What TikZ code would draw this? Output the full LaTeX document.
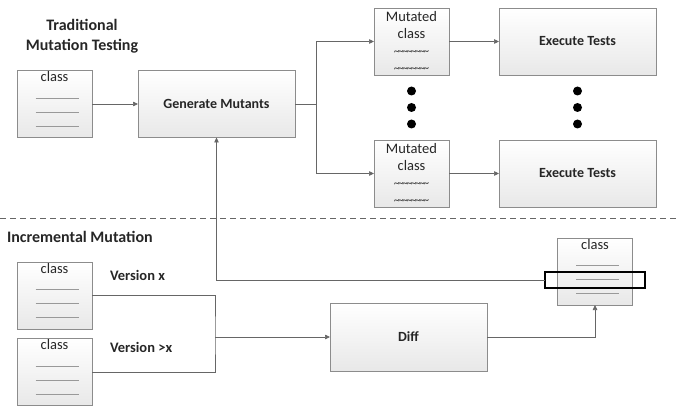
\documentclass[tikz,border=0pt]{standalone}
\usepackage{fontspec}
\setmainfont{Carlito}
\usetikzlibrary{positioning,arrows.meta}

\newcommand\wavy{\scalebox{1.05}[1.3]{\fontsize{10.5}{9}\selectfont\color{black!70}\textasciitilde\kern-1.2pt\textasciitilde\kern-1.2pt\textasciitilde\kern-1.2pt\textasciitilde\kern-1.2pt\textasciitilde\kern-1.2pt\textasciitilde\kern-1.2pt\textasciitilde\kern-1.2pt\textasciitilde}}

\begin{document}
\begin{tikzpicture}
[x=1pt,y=-1pt,
 every node/.style={font=\fontsize{14.5}{17}\selectfont,text=black!85,inner sep=0pt,outer sep=0pt},
 box/.style={draw=black!45,line width=0.8pt,top color=white,bottom color=black!9,minimum width=157pt,minimum height=67pt,font=\fontsize{14}{17}\selectfont\bfseries},
 doc/.style={box,minimum width=75pt,font=\fontsize{14.5}{17}\selectfont},
 dot/.style={circle,fill=black,minimum size=9pt},
 title/.style={font=\fontsize{16}{20}\selectfont\bfseries,align=center},
 link/.style={draw=black!60,line width=0.7pt},
 arrow/.style={link,-{Triangle[length=5pt,width=4.5pt]}}]
\useasboundingbox (0,0) rectangle (676,406);
% titles
\node[title]              (trad) at (82,36)  {Traditional\\Mutation Testing};
\node[title,anchor=west]  (incr) at (7,237)  {Incremental Mutation};
% traditional mutation testing
\node[doc,label={[anchor=north,yshift=-1pt]north:class}] (cls) at (54.5,104) {};
\node[box]  (gen)  [on grid,right=162pt of cls]                 {Generate Mutants};
\node[doc,align=center] (mutA) [on grid,above right=62.5pt and 357pt of cls] {Mutated\\class\\\wavy\\\wavy};
\node[box]  (exeA) [on grid,right=166pt of mutA]                {Execute Tests};
\node[doc,align=center] (mutB) [on grid,below=132pt of mutA]    {Mutated\\class\\\wavy\\\wavy};
\node[box]  (exeB) [on grid,right=166pt of mutB]                {Execute Tests};
\foreach \i/\dy in {1/49.5,2/66,3/82.5} {
  \node[dot] (dotM\i) [on grid,below=\dy pt of mutA] {};
  \node[dot] (dotE\i) [on grid,below=\dy pt of exeA] {};
}
% incremental mutation
\node[doc,label={[anchor=north,yshift=-1pt]north:class}] (clsX) at (54.5,295.5) {};
\node[doc,label={[anchor=north,yshift=-1pt]north:class}] (clsY) [on grid,below=76.5pt of clsX] {};
\node[title,font=\fontsize{14.5}{17}\selectfont\bfseries,anchor=west] (verX) [right=18pt of clsX.north east,yshift=-13pt] {Version x};
\node[title,font=\fontsize{14.5}{17}\selectfont\bfseries,anchor=west] (verY) [right=18pt of clsY.north east,yshift=-9pt]  {Version >x};
\node[box,minimum height=68pt] (diff) at (408.5,337) {Diff};
\node[doc,label={[anchor=north,yshift=-1pt]north:class}] (clsN) at (595,271.5) {};
% lines of the class boxes
\foreach \c in {cls,clsX,clsY,clsN}
  \foreach \dy in {-6,8,22}
    \draw[draw=black!40,line width=0.7pt] ([shift={(-19,\dy)}]\c.center) -- ++(43,0);
\node[draw=black,line width=1.6pt,minimum width=100pt,minimum height=16pt] (hl) at (595,280) {};
% connectors
\coordinate (split) at ([xshift=21pt]gen.east);
\draw[arrow] (cls) -- (gen);
\draw[link]  (gen) -- (split);
\draw[arrow] (split) |- (mutA);
\draw[arrow] (split) |- (mutB);
\draw[arrow] (mutA) -- (exeA);
\draw[arrow] (mutB) -- (exeB);
\coordinate (sepL) at (0,218);
\coordinate (sepR) at (676,218);
\draw[link,dash pattern=on 6pt off 4pt] (sepL) -- (sepR);
\coordinate (join) at ([xshift=-115pt]diff.west);
\draw[link]  (clsX.east) -| (join) |- (clsY.east);
\draw[arrow] (join) -- (diff);
\draw[arrow] (diff) -| (clsN);
\draw[arrow] (hl) -| (gen);
\end{tikzpicture}
\end{document}
